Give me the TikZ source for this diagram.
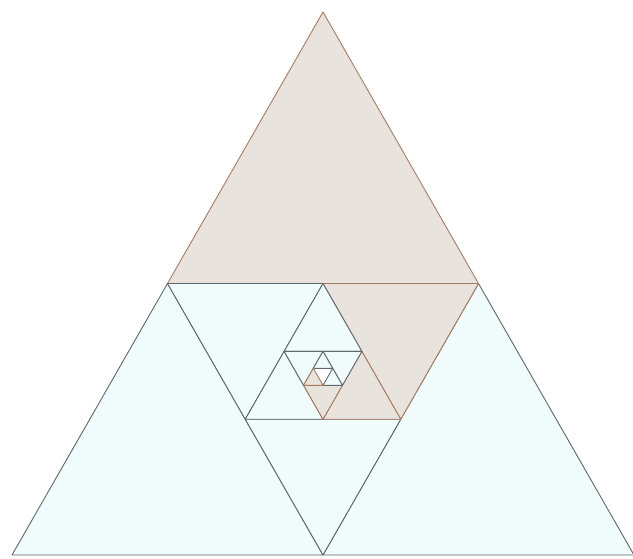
\documentclass[tikz,border=0pt]{standalone}
\usetikzlibrary{calc}
\definecolor{tritan}{HTML}{E9E3DD}
\definecolor{tribrown}{HTML}{A97B5F}
\definecolor{tricyan}{HTML}{F0FBFC}
\definecolor{trigray}{HTML}{5E686D}
\begin{document}
\begin{tikzpicture}[
      x=1pt, y=-1pt,
      cyanpiece/.style={draw=trigray, fill=tricyan, line width=0.9pt, line join=round},
      tanpiece/.style={draw=tribrown, fill=tritan, line width=0.9pt, line join=round}
  ]
    \useasboundingbox (0,0) rectangle (633,558);
    \clip (0,0) rectangle (633,558);

    % outer triangle, (p) is the shaded corner
    \coordinate (p) at (323,12);
    \coordinate (q) at (12,555);
    \coordinate (r) at (634,555);

    \foreach \lvl in {0,...,4}{
      \coordinate (mpq) at ($(p)!0.5!(q)$);
      \coordinate (mpr) at ($(p)!0.5!(r)$);
      \coordinate (mqr) at ($(q)!0.5!(r)$);
      \draw[cyanpiece] (q) -- (mpq) -- (mqr) -- cycle;
      \draw[cyanpiece] (r) -- (mpr) -- (mqr) -- cycle;
      \draw[tanpiece] (p) -- (mpq) -- (mpr) -- cycle;
      % next triangle, turned by 60 degrees
      \coordinate (p) at (mpr);
      \coordinate (q) at (mpq);
      \coordinate (r) at (mqr);
    }
  \end{tikzpicture}
\end{document}
